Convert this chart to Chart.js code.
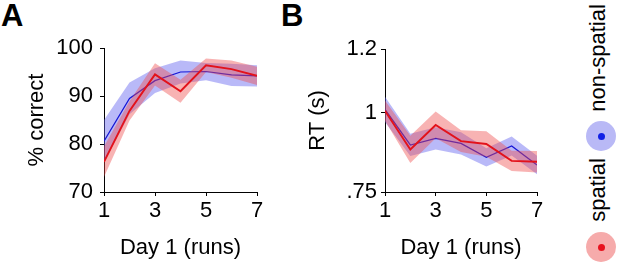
<!DOCTYPE html>
<html>
<head>
<meta charset="utf-8">
<script src="https://cdn.jsdelivr.net/npm/chart.js@4.4.1/dist/chart.umd.min.js"></script>
<style>
  body { margin: 0; background: #fff; width: 617px; height: 264px; position: relative; overflow: hidden;
         font-family: "Liberation Sans", Arial, sans-serif; }
  canvas { position: absolute; top: 0; }
  #chartA { left: 0; }
  #chartB { left: 270px; }
  .panel { position: absolute; top: 0; font-size: 31px; font-weight: bold; line-height: 1; }
  .legText { position: absolute; font-size: 22px; line-height: 1; white-space: nowrap;
             transform: translate(-50%, -50%) rotate(-90deg); }
  .legDot { position: absolute; width: 30px; height: 30px; border-radius: 50%; transform: translate(-50%, -50%); }
  .legDot::after { content: ''; position: absolute; left: 11.5px; top: 11.5px; width: 7px; height: 7px; border-radius: 50%; background: var(--dot); }
</style>
</head>
<body>
<div class="panel" style="left:1px">A</div>
<div class="panel" style="left:281px">B</div>
<canvas id="chartA" width="275" height="264"></canvas>
<canvas id="chartB" width="280" height="264"></canvas>

<div class="legText" style="left:598px; top:58px">non-spatial</div>
<div class="legDot" style="left:601px; top:136px; background:#b9b9f6; --dot:#1020e6"></div>
<div class="legText" style="left:598px; top:190px">spatial</div>
<div class="legDot" style="left:601px; top:247px; background:#f6abab; --dot:#e8121e"></div>

<script>
// --- data ---
const runs = [1, 2, 3, 4, 5, 6, 7];
const xTicks = [1, 3, 5, 7];

// A: % correct
const accNonSpatial    = [80.6, 89.5, 93.2, 95.0, 95.1, 94.4, 94.2];
const accNonSpatialSem = [4.4, 3.3, 2.6, 2.4, 1.8, 2.3, 2.2];
const accSpatial       = [76.3, 86.9, 94.5, 91.0, 96.4, 95.6, 94.2];
const accSpatialSem    = [3.2, 2.0, 2.3, 2.4, 1.4, 1.8, 1.9];
const accTicks = [70, 80, 90, 100];

// B: RT (s)
const rtNonSpatial    = [1.010, 0.898, 0.919, 0.903, 0.859, 0.895, 0.835];
const rtNonSpatialSem = [0.040, 0.035, 0.035, 0.035, 0.029, 0.030, 0.029];
const rtSpatial       = [1.006, 0.884, 0.961, 0.910, 0.901, 0.848, 0.845];
const rtSpatialSem    = [0.032, 0.043, 0.042, 0.034, 0.040, 0.032, 0.034];
const rtTicks      = [0.75, 1, 1.2];
const rtTickLabels = ['.75', '1', '1.2'];

// colours
const RED = '#e3121b', BLUE = '#1515d6';
const RED_BAND = 'rgba(238, 75, 75, 0.42)', BLUE_BAND = 'rgba(100, 100, 240, 0.45)';

Chart.defaults.color = '#000';
Chart.defaults.font.family = '"Liberation Sans", Arial, sans-serif';

const pts = (ys) => runs.map((r, i) => ({ x: r, y: ys[i] }));
const shift = (ys, sem, sign) => ys.map((v, i) => v + sign * sem[i]);

// index 0 is painted last (on top), so red goes first
function buildDatasets(spatial, spatialSem, nonSpatial, nonSpatialSem) {
    const line = (data, color, w) => ({ data: pts(data), borderColor: color, borderWidth: w, pointRadius: 0, fill: false, tension: 0 });
    const edge = (data, color, fill) => ({ data: pts(data), borderWidth: 0, borderColor: 'transparent', backgroundColor: color, pointRadius: 0, fill: fill, tension: 0 });
    return [
        line(spatial, RED, 1.9),
        edge(shift(spatial, spatialSem, 1), RED_BAND, '+1'),
        edge(shift(spatial, spatialSem, -1), RED_BAND, false),
        line(nonSpatial, BLUE, 1.2),
        edge(shift(nonSpatial, nonSpatialSem, 1), BLUE_BAND, '+1'),
        edge(shift(nonSpatial, nonSpatialSem, -1), BLUE_BAND, false)
    ];
}

function axisGrid() {
    return { display: true, drawOnChartArea: false, drawTicks: true, tickLength: 4, color: '#000' };
}

function makeChart(id, datasets, y, padLeft, padRight, yPad) {
    return new Chart(document.getElementById(id), {
        type: 'line',
        data: { datasets: datasets },
        options: {
            responsive: false,
            animation: false,
            layout: { padding: { left: padLeft, right: padRight, top: y.top, bottom: 0 } },
            plugins: { legend: { display: false }, tooltip: { enabled: false }, filler: { drawTime: 'beforeDatasetDraw' } },
            scales: {
                x: {
                    type: 'linear', min: 1, max: 7,
                    afterBuildTicks: s => { s.ticks = xTicks.map(v => ({ value: v })); },
                    afterFit: s => { s.height = 72; },
                    grid: axisGrid(),
                    border: { display: true, color: '#000', width: 1 },
                    ticks: { font: { size: 22 }, padding: 2, maxRotation: 0 },
                    title: { display: true, text: 'Day 1 (runs)', font: { size: 22 }, padding: { top: 0, bottom: 3 } }
                },
                y: {
                    type: 'linear', min: y.min, max: y.max,
                    afterBuildTicks: s => { s.ticks = y.ticks.map(v => ({ value: v })); },
                    afterFit: s => { s.width = 80; },
                    grid: axisGrid(),
                    border: { display: true, color: '#000', width: 1 },
                    ticks: { font: { size: 22 }, padding: yPad, callback: y.fmt },
                    title: { display: true, text: y.title, font: { size: 22 }, padding: { top: 0, bottom: 0 } }
                }
            }
        }
    });
}

makeChart('chartA',
    buildDatasets(accSpatial, accSpatialSem, accNonSpatial, accNonSpatialSem),
    { min: 70, max: 100, ticks: accTicks, title: '% correct', top: 48, fmt: v => String(v) },
    24, 18, 7);

makeChart('chartB',
    buildDatasets(rtSpatial, rtSpatialSem, rtNonSpatial, rtNonSpatialSem),
    { min: 0.75, max: 1.2, ticks: rtTicks, title: 'RT (s)', top: 49, fmt: v => rtTickLabels[rtTicks.indexOf(v)] },
    35, 13, 4);
</script>
</body>
</html>
